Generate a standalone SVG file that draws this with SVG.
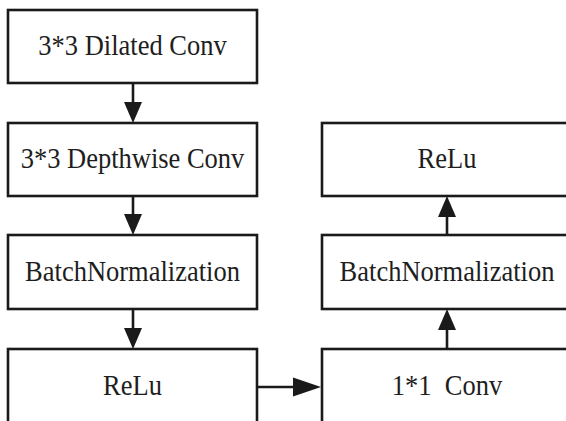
<svg xmlns="http://www.w3.org/2000/svg" width="566" height="421" viewBox="0 0 566 421">
  <style>
    .box { fill: #ffffff; stroke: #1a1a1a; stroke-width: 2.6; }
    .label { font-family: "Liberation Serif", "Times New Roman", serif; font-size: 26.5px; fill: #1e1e1e; text-anchor: middle; }
    .link { stroke: #1a1a1a; stroke-width: 2.6; fill: none; }
    .head { fill: #1a1a1a; }
  </style>
  <rect x="0" y="0" width="566" height="421" fill="#ffffff"/>

  <!-- left column -->
  <g id="dilated-conv">
    <rect class="box" x="8" y="10" width="249" height="73"/>
    <text class="label" transform="translate(132.5 55) scale(1 1.09)">3*3 Dilated Conv</text>
  </g>
  <g id="depthwise-conv">
    <rect class="box" x="8" y="123" width="249" height="73"/>
    <text class="label" transform="translate(132.5 168) scale(1 1.09)">3*3 Depthwise Conv</text>
  </g>
  <g id="batchnorm-left">
    <rect class="box" x="8" y="235" width="249" height="74"/>
    <text class="label" transform="translate(132.5 281) scale(1 1.09)">BatchNormalization</text>
  </g>
  <g id="relu-left">
    <rect class="box" x="8" y="349" width="249" height="90"/>
    <text class="label" transform="translate(132.5 395) scale(1 1.09)">ReLu</text>
  </g>

  <!-- right column -->
  <g id="relu-right">
    <rect class="box" x="322" y="123" width="250" height="73"/>
    <text class="label" transform="translate(447 168) scale(1 1.09)">ReLu</text>
  </g>
  <g id="batchnorm-right">
    <rect class="box" x="322" y="235" width="250" height="74"/>
    <text class="label" transform="translate(447 281) scale(1 1.09)">BatchNormalization</text>
  </g>
  <g id="pointwise-conv">
    <rect class="box" x="322" y="349" width="250" height="90"/>
    <text class="label" transform="translate(447 395) scale(1 1.09)" xml:space="preserve">1*1  Conv</text>
  </g>

  <!-- connectors -->
  <g id="connectors">
    <line class="link" x1="133" y1="83" x2="133" y2="104"/>
    <polygon class="head" points="124,102 142,102 133,123"/>
    <line class="link" x1="133" y1="196" x2="133" y2="216"/>
    <polygon class="head" points="124,214 142,214 133,235"/>
    <line class="link" x1="133" y1="309" x2="133" y2="330"/>
    <polygon class="head" points="124,328 142,328 133,349"/>
    <line class="link" x1="257" y1="387" x2="296" y2="387"/>
    <polygon class="head" points="293,377.5 293,396.5 321,387"/>
    <line class="link" x1="447" y1="349" x2="447" y2="328"/>
    <polygon class="head" points="438,330 456,330 447,309"/>
    <line class="link" x1="447" y1="235" x2="447" y2="215"/>
    <polygon class="head" points="438,217 456,217 447,196"/>
  </g>
</svg>
